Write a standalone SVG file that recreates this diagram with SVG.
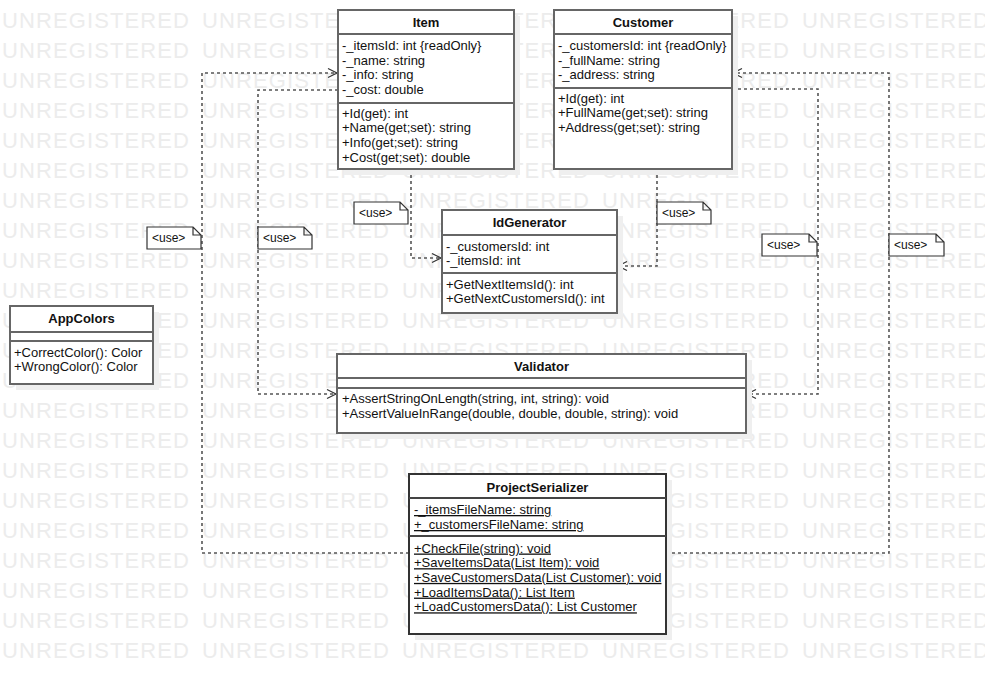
<svg xmlns="http://www.w3.org/2000/svg" xmlns:xlink="http://www.w3.org/1999/xlink" width="985" height="674" viewBox="0 0 985 674">
<style>
.wm{font-family:"Liberation Sans",Arial,sans-serif;font-size:22px;fill:#ececec;letter-spacing:1.1px}
.box{fill:#fff;stroke:#666;stroke-width:2}
.sh{fill:#efefef}
.sep{stroke:#666;stroke-width:2}
.t{font-family:"Liberation Sans",Arial,sans-serif;font-size:13px;fill:#111}
.h{font-family:"Liberation Sans",Arial,sans-serif;font-size:13px;font-weight:bold;fill:#111;text-anchor:middle}
.u{text-decoration:underline}
.conn{fill:none;stroke:#555;stroke-width:1.6;stroke-dasharray:3 3}
.note{fill:#fff;stroke:#333;stroke-width:1.2}
.nt{font-family:"Liberation Sans",Arial,sans-serif;font-size:12px;fill:#111}
</style>
<defs>
<marker id="arr" markerUnits="userSpaceOnUse" markerWidth="12" markerHeight="12" refX="10" refY="6" orient="auto">
<path d="M1,1.5 L10,6 L1,10.5" fill="none" stroke="#333" stroke-width="1.2"/>
</marker>
<g id="wmrow">
<text class="wm" x="2" y="0">UNREGISTERED</text>
<text class="wm" x="202" y="0">UNREGISTERED</text>
<text class="wm" x="402" y="0">UNREGISTERED</text>
<text class="wm" x="602" y="0">UNREGISTERED</text>
<text class="wm" x="802" y="0">UNREGISTERED</text>
</g>
</defs>
<rect width="985" height="674" fill="#fff"/>
<g id="watermark">
<use xlink:href="#wmrow" y="28"/><use xlink:href="#wmrow" y="58"/><use xlink:href="#wmrow" y="88"/><use xlink:href="#wmrow" y="118"/><use xlink:href="#wmrow" y="148"/><use xlink:href="#wmrow" y="178"/><use xlink:href="#wmrow" y="208"/><use xlink:href="#wmrow" y="238"/><use xlink:href="#wmrow" y="268"/><use xlink:href="#wmrow" y="298"/><use xlink:href="#wmrow" y="328"/><use xlink:href="#wmrow" y="358"/><use xlink:href="#wmrow" y="388"/><use xlink:href="#wmrow" y="418"/><use xlink:href="#wmrow" y="448"/><use xlink:href="#wmrow" y="478"/><use xlink:href="#wmrow" y="508"/><use xlink:href="#wmrow" y="538"/><use xlink:href="#wmrow" y="568"/><use xlink:href="#wmrow" y="598"/><use xlink:href="#wmrow" y="628"/><use xlink:href="#wmrow" y="658"/>
</g>

<g id="connectors">
<path class="conn" d="M409,553 H202 V73 H337" marker-end="url(#arr)"/>
<path class="conn" d="M666,553 H889 V73 H733" marker-end="url(#arr)"/>
<path class="conn" d="M338,90 H258 V394 H336" marker-end="url(#arr)"/>
<path class="conn" d="M411,169 V258 H441" marker-end="url(#arr)"/>
<path class="conn" d="M657,169 V266 H618" marker-end="url(#arr)"/>
<path class="conn" d="M732,89 H818 V394 H747" marker-end="url(#arr)"/>
</g>

<g id="notes">
<g id="note1"><path class="note" d="M147,227 H193 L201,235 V249 H147 Z M193,227 V235 H201"/><text class="nt" x="152" y="242">&lt;use&gt;</text></g>
<g id="note2"><path class="note" d="M258,227 H304 L312,235 V249 H258 Z M304,227 V235 H312"/><text class="nt" x="263" y="242">&lt;use&gt;</text></g>
<g id="note3"><path class="note" d="M354,202 H400 L408,210 V224 H354 Z M400,202 V210 H408"/><text class="nt" x="359" y="217">&lt;use&gt;</text></g>
<g id="note4"><path class="note" d="M657,202 H703 L711,210 V224 H657 Z M703,202 V210 H711"/><text class="nt" x="662" y="217">&lt;use&gt;</text></g>
<g id="note5"><path class="note" d="M762,234 H809 L817,242 V256 H762 Z M809,234 V242 H817"/><text class="nt" x="767" y="249">&lt;use&gt;</text></g>
<g id="note6"><path class="note" d="M889,234 H936 L944,242 V256 H889 Z M936,234 V242 H944"/><text class="nt" x="894" y="249">&lt;use&gt;</text></g>
</g>

<g id="Item">
<rect class="sh" x="344" y="16" width="176" height="159"/>
<rect class="box" x="338" y="10" width="176" height="159"/>
<line class="sep" x1="338" y1="34" x2="514" y2="34"/>
<line class="sep" x1="338" y1="103" x2="514" y2="103"/>
<text class="h" x="426" y="26.5">Item</text>
<text class="t" x="342" y="50">-_itemsId: int {readOnly}</text>
<text class="t" x="342" y="64.7">-_name: string</text>
<text class="t" x="342" y="79.4">-_info: string</text>
<text class="t" x="342" y="94.1">-_cost: double</text>
<text class="t" x="342" y="117.5">+Id(get): int</text>
<text class="t" x="342" y="132.2">+Name(get;set): string</text>
<text class="t" x="342" y="146.9">+Info(get;set): string</text>
<text class="t" x="342" y="161.6">+Cost(get;set): double</text>
</g>

<g id="Customer">
<rect class="sh" x="560" y="16" width="178" height="159"/>
<rect class="box" x="554" y="10" width="178" height="159"/>
<line class="sep" x1="554" y1="34" x2="732" y2="34"/>
<line class="sep" x1="554" y1="88" x2="732" y2="88"/>
<text class="h" x="643" y="26.5">Customer</text>
<text class="t" x="558" y="50">-_customersId: int {readOnly}</text>
<text class="t" x="558" y="64.7">-_fullName: string</text>
<text class="t" x="558" y="79.4">-_address: string</text>
<text class="t" x="558" y="102.7">+Id(get): int</text>
<text class="t" x="558" y="117.4">+FullName(get;set): string</text>
<text class="t" x="558" y="132.1">+Address(get;set): string</text>
</g>

<g id="IdGenerator">
<rect class="sh" x="448" y="216" width="175" height="103"/>
<rect class="box" x="442" y="210" width="175" height="103"/>
<line class="sep" x1="442" y1="235" x2="617" y2="235"/>
<line class="sep" x1="442" y1="273" x2="617" y2="273"/>
<text class="h" x="529.5" y="227">IdGenerator</text>
<text class="t" x="446" y="250.5">-_customersId: int</text>
<text class="t" x="446" y="265.2">-_itemsId: int</text>
<text class="t" x="446" y="288.5">+GetNextItemsId(): int</text>
<text class="t" x="446" y="303.2">+GetNextCustomersId(): int</text>
</g>

<g id="AppColors">
<rect class="sh" x="16" y="312" width="143" height="78"/>
<rect class="box" x="10" y="306" width="143" height="78"/>
<line class="sep" x1="10" y1="332" x2="153" y2="332"/>
<line class="sep" x1="10" y1="341" x2="153" y2="341"/>
<text class="h" x="81.5" y="323">AppColors</text>
<text class="t" x="14" y="356.5">+CorrectColor(): Color</text>
<text class="t" x="14" y="371.2">+WrongColor(): Color</text>
</g>

<g id="Validator">
<rect class="sh" x="343" y="360" width="409" height="79"/>
<rect class="box" x="337" y="354" width="409" height="79"/>
<line class="sep" x1="337" y1="378" x2="746" y2="378"/>
<line class="sep" x1="337" y1="388" x2="746" y2="388"/>
<text class="h" x="541.5" y="371">Validator</text>
<text class="t" x="342" y="403">+AssertStringOnLength(string, int, string): void</text>
<text class="t" x="342" y="418">+AssertValueInRange(double, double, double, string): void</text>
</g>

<g id="ProjectSerializer">
<rect class="sh" x="415" y="480" width="257" height="160"/>
<rect class="box" x="409" y="474" width="257" height="160" style="stroke:#333"/>
<line class="sep" x1="409" y1="498" x2="666" y2="498" style="stroke:#444"/>
<line class="sep" x1="409" y1="536" x2="666" y2="536" style="stroke:#444"/>
<text class="h" x="537.5" y="491.5">ProjectSerializer</text>
<text class="t u" x="414" y="514">-_itemsFileName: string</text>
<text class="t u" x="414" y="529">+_customersFileName: string</text>
<text class="t u" x="414" y="552.5">+CheckFile(string): void</text>
<text class="t u" x="414" y="567.2">+SaveItemsData(List Item): void</text>
<text class="t u" x="414" y="581.9">+SaveCustomersData(List Customer): void</text>
<text class="t u" x="414" y="596.6">+LoadItemsData(): List Item</text>
<text class="t u" x="414" y="611.3">+LoadCustomersData(): List Customer</text>
</g>
</svg>
